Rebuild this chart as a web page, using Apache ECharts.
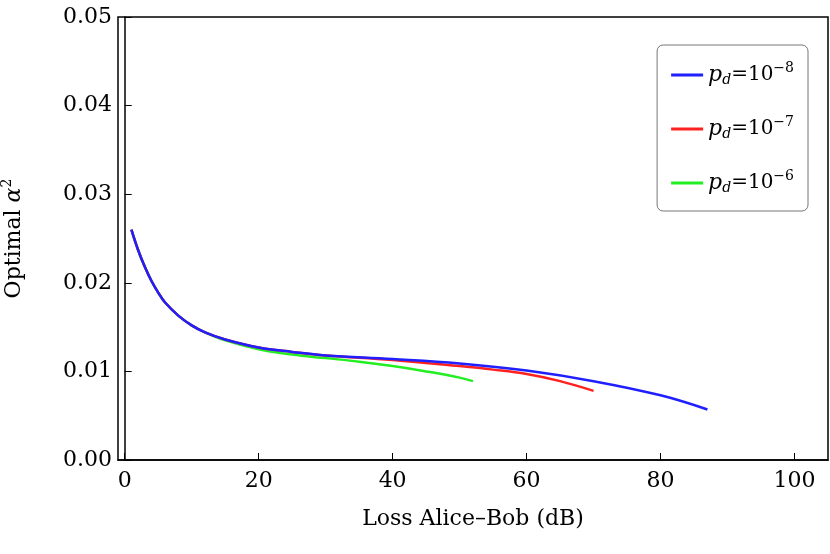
<!DOCTYPE html><html><head><meta charset="utf-8">
<script src="https://cdn.jsdelivr.net/npm/echarts@6/dist/echarts.min.js"></script>
<style>body{margin:0}#c{width:830px;height:554px}</style></head><body><div id="c"></div>
<script>
const lossBlue=[1,2,3,4,5,6,8,10,12,15,20,25,30,40,50,60,70,80,87];
const alphaBlue=[0.0260,0.0237,0.0218,0.0202,0.0189,0.0178,0.0163,0.0152,0.0144,0.0136,0.0127,0.0122,0.0118,0.0114,0.0109,0.0101,0.0089,0.0073,0.0057];
const lossRed=[1,2,3,4,5,6,8,10,12,15,20,25,30,40,50,55,60,65,70];
const alphaRed=[0.0260,0.0237,0.0218,0.0202,0.0189,0.0178,0.0163,0.0152,0.0144,0.0136,0.0127,0.0122,0.0118,0.0113,0.0106,0.0102,0.0097,0.0089,0.0078];
const lossGreen=[1,2,3,4,5,6,8,10,12,15,20,25,30,35,40,45,50,52];
const alphaGreen=[0.0260,0.0237,0.0218,0.0202,0.0189,0.0178,0.0163,0.0152,0.0144,0.0135,0.0125,0.0119,0.0115,0.0111,0.0106,0.0100,0.0093,0.0089];
const xTicks=[0,20,40,60,80,100];
const names=['{p|p}{s|d}=10{e|−8}','{p|p}{s|d}=10{e|−7}','{p|p}{s|d}=10{e|−6}'];
const colors=['#1f1fff','#ff2020','#22ee22'];
const F='DejaVu Serif';
const z=(a,b)=>a.map((v,i)=>[v,b[i]]);
const ch=echarts.init(document.getElementById('c'));
const ser=[[lossBlue,alphaBlue],[lossRed,alphaRed],[lossGreen,alphaGreen]].map((d,i)=>({name:names[i],type:'line',data:z(d[0],d[1]),smooth:0.4,showSymbol:false,lineStyle:{width:2.5,color:colors[i]},itemStyle:{color:colors[i]},z:10-i}));
ch.setOption({animation:false,
grid:{left:118,right:2,top:17,bottom:94,containLabel:false,outerBoundsMode:'none',show:true,borderColor:'#000',borderWidth:1.5},
xAxis:{type:'value',min:-1,max:105,name:'Loss Alice–Bob (dB)',nameLocation:'middle',nameGap:48,nameTextStyle:{fontFamily:F,fontSize:22,color:'#000'},
 axisLine:{onZero:false,lineStyle:{color:'#000',width:1.5}},axisTick:{inside:true,length:7,lineStyle:{color:'#000'}},splitLine:{show:false},
 axisLabel:{fontFamily:F,fontSize:22,color:'#000',margin:10,customValues:xTicks,formatter:v=>String(v)},
 axisTick:{inside:true,length:7,lineStyle:{color:'#000'},customValues:xTicks}},
yAxis:{type:'value',min:0,max:0.05,interval:0.01,name:'Optimal {a|α}{sup|2}',nameLocation:'middle',nameGap:90,
 nameTextStyle:{fontFamily:F,fontSize:22,color:'#000',rich:{a:{fontFamily:F,fontSize:22,fontStyle:'italic'},sup:{fontFamily:F,fontSize:14,verticalAlign:'top',padding:[0,0,14,0]}}},
 axisLine:{show:true,lineStyle:{color:'#000',width:1.5}},axisTick:{inside:true,length:7,lineStyle:{color:'#000'}},splitLine:{show:false},
 axisLabel:{fontFamily:F,fontSize:22,color:'#000',margin:6,formatter:v=>v.toFixed(2)}},
legend:{right:22,top:45,orient:'vertical',itemWidth:32,itemHeight:3,itemGap:28,padding:[16,14,16,14],borderColor:'#777',borderWidth:1,borderRadius:6,
 icon:'rect',
 textStyle:{fontFamily:F,fontSize:20,color:'#000',rich:{p:{fontFamily:F,fontSize:22,fontStyle:'italic'},s:{fontFamily:F,fontSize:14,fontStyle:'italic',padding:[10,0,0,0]},e:{fontFamily:F,fontSize:14,padding:[0,0,14,0]}}}},
series:ser});
</script></body></html>
